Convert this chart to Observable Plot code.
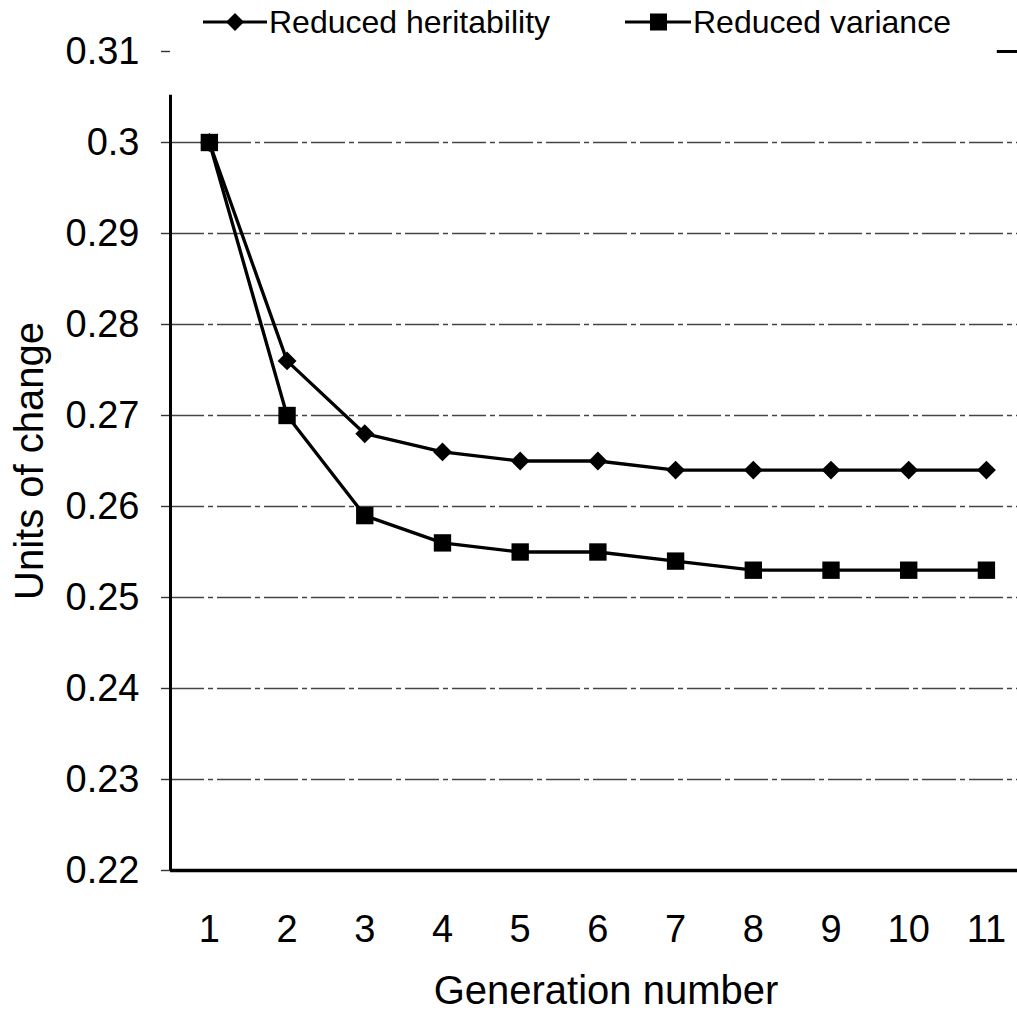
<!DOCTYPE html>
<html><head><meta charset="utf-8">
<script src="https://cdn.jsdelivr.net/npm/d3@7"></script>
<script src="https://cdn.jsdelivr.net/npm/@observablehq/plot@0.6"></script>
<style>
body{margin:0;background:#fff;}
#wrap{position:relative;width:1017px;height:1027px;overflow:hidden;}
#legend{position:absolute;top:0;left:0;width:1017px;height:46px;font-family:"Liberation Sans",Arial,sans-serif;font-size:32px;color:#000;z-index:2;}
.item{position:absolute;top:4px;display:flex;align-items:center;height:36px;white-space:nowrap;}
.item svg{display:block;margin-right:2px;}
#chart{position:absolute;top:0;left:0;}
</style></head><body>
<div id="wrap"><div id="chart"></div><div id="legend"></div></div>
<script>
const generations = [1, 2, 3, 4, 5, 6, 7, 8, 9, 10, 11];
const heritability = [0.300, 0.276, 0.268, 0.266, 0.265, 0.265, 0.264, 0.264, 0.264, 0.264, 0.264];
const variance = [0.300, 0.270, 0.259, 0.256, 0.255, 0.255, 0.254, 0.253, 0.253, 0.253, 0.253];
const seriesNames = ["Reduced heritability", "Reduced variance"];
const yTicks = [0.22, 0.23, 0.24, 0.25, 0.26, 0.27, 0.28, 0.29, 0.30, 0.31];
const gridValues = [0.23, 0.24, 0.25, 0.26, 0.27, 0.28, 0.29, 0.30];
const xLabel = "Generation number";
const yLabel = "Units of change";

const hRows = generations.map((g, i) => ({gen: g, value: heritability[i], series: seriesNames[0]}));
const vRows = generations.map((g, i) => ({gen: g, value: variance[i], series: seriesNames[1]}));

const chart = Plot.plot({
  width: 1017,
  height: 1027,
  marginTop: 51,
  marginBottom: 157,
  marginLeft: 170,
  marginRight: 0,
  style: {fontFamily: "'Liberation Sans', Arial, sans-serif", fontSize: "38px", color: "#000", background: "#fff"},
  x: {domain: [0.5, 11.4]},
  y: {domain: [0.22, 0.31]},
  marks: [
    Plot.ruleY(gridValues, {stroke: "#444", strokeWidth: 1.5, strokeDasharray: "34,4,5,4"}),
    Plot.axisY(yTicks, {tickSize: 9, tickPadding: 22, tickFormat: d3.format("~g"), label: null, fontSize: 38, stroke: "#333", strokeWidth: 1.4}),
    Plot.axisX(generations, {tickSize: 0, tickPadding: 45, tickFormat: d => String(d), label: null, fontSize: 38}),
    Plot.ruleX([0.5], {y1: 0.22, y2: 0.3052, stroke: "#000", strokeWidth: 3}),
    Plot.ruleY([0.22], {stroke: "#000", strokeWidth: 3.5}),
    Plot.ruleY([0.31], {x1: 11.14, x2: 11.4, stroke: "#000", strokeWidth: 3}),
    Plot.line(hRows, {x: "gen", y: "value", stroke: "#000", strokeWidth: 3.3}),
    Plot.line(vRows, {x: "gen", y: "value", stroke: "#000", strokeWidth: 3.3}),
    Plot.dot(hRows, {x: "gen", y: "value", symbol: "diamond2", r: 8.5, fill: "#000", stroke: "none"}),
    Plot.dot(vRows, {x: "gen", y: "value", symbol: "square", r: 9.8, fill: "#000", stroke: "none"}),
    Plot.text([xLabel], {text: d => d, frameAnchor: "bottom", dy: 133, dx: 12, fontSize: 40}),
    Plot.text([yLabel], {text: d => d, frameAnchor: "left", textAnchor: "middle", dx: -140, rotate: -90, fontSize: 40})
  ]
});
document.getElementById("chart").appendChild(chart);

// legend
const legend = document.getElementById("legend");
const icons = [
  `<svg width="64" height="30" viewBox="0 0 64 30"><line x1="0" y1="15" x2="64" y2="15" stroke="#000" stroke-width="3"/><polygon points="32,6 41,15 32,24 23,15" fill="#000"/></svg>`,
  `<svg width="66" height="30" viewBox="0 0 66 30"><line x1="0" y1="15" x2="66" y2="15" stroke="#000" stroke-width="3"/><rect x="25" y="6.5" width="17" height="17" fill="#000"/></svg>`
];
const lefts = [203, 625];
seriesNames.forEach((name, i) => {
  const item = document.createElement("div");
  item.className = "item";
  item.style.left = lefts[i] + "px";
  item.innerHTML = icons[i] + `<span>${name}</span>`;
  legend.appendChild(item);
});
</script>
</body></html>
